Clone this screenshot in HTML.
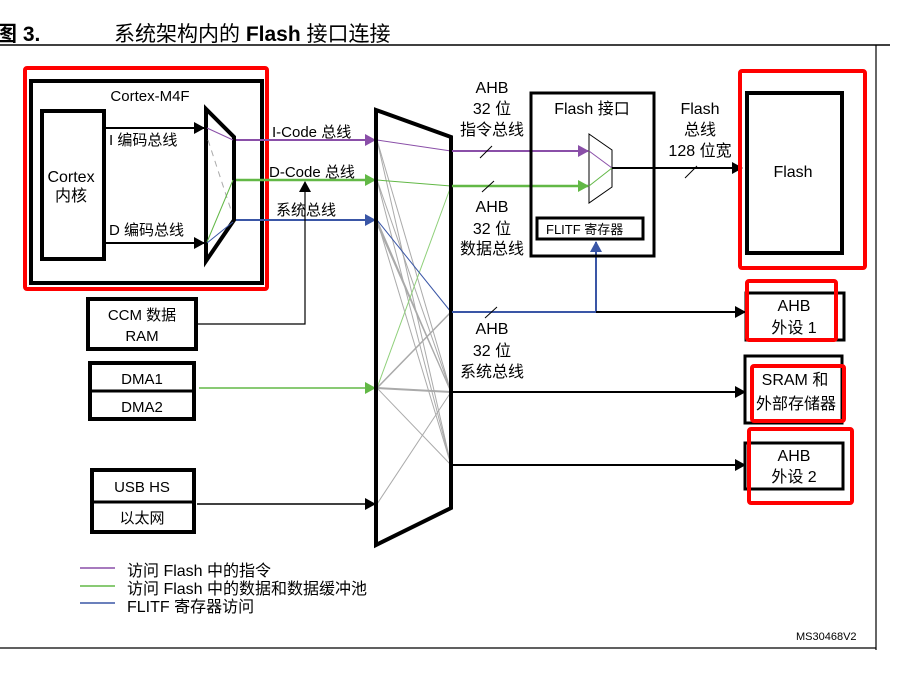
<!DOCTYPE html>
<html><head><meta charset="utf-8"><style>
body{margin:0;background:#fff;}
svg text{font-family:"Liberation Sans","Noto Sans CJK SC",sans-serif;fill:#000;}
</style></head><body>
<svg width="918" height="672" viewBox="0 0 918 672" xmlns="http://www.w3.org/2000/svg">
<defs>
<marker id="ak" markerWidth="11" markerHeight="12" refX="10" refY="6" orient="auto" markerUnits="userSpaceOnUse"><path d="M0,0 L11,6 L0,12z" fill="#000"/></marker>
<marker id="ap" markerWidth="11" markerHeight="12" refX="10" refY="6" orient="auto" markerUnits="userSpaceOnUse"><path d="M0,0 L11,6 L0,12z" fill="#8a4fa8"/></marker>
<marker id="ag" markerWidth="11" markerHeight="12" refX="10" refY="6" orient="auto" markerUnits="userSpaceOnUse"><path d="M0,0 L11,6 L0,12z" fill="#62b846"/></marker>
<marker id="ab" markerWidth="11" markerHeight="12" refX="10" refY="6" orient="auto" markerUnits="userSpaceOnUse"><path d="M0,0 L11,6 L0,12z" fill="#3a56a6"/></marker>
</defs>
<!-- title -->
<text x="-4" y="41" font-size="21" font-weight="bold">图 3.</text>
<text x="114" y="41" font-size="21">系统架构内的 <tspan font-weight="bold">Flash</tspan> 接口连接</text>
<line x1="0" y1="45" x2="890" y2="45" stroke="#000" stroke-width="1.5"/>
<line x1="876" y1="45" x2="876" y2="650" stroke="#000" stroke-width="1.2"/>
<line x1="0" y1="648" x2="876" y2="648" stroke="#000" stroke-width="1.2"/>

<!-- Cortex-M4F -->
<rect x="31" y="81" width="231" height="202" fill="none" stroke="#000" stroke-width="4"/>
<rect x="25" y="68" width="242" height="221" fill="none" stroke="#f00" stroke-width="4" rx="2"/>
<text x="150" y="101" font-size="15" text-anchor="middle">Cortex-M4F</text>
<rect x="42" y="111" width="62" height="148" fill="none" stroke="#000" stroke-width="4"/>
<text x="71" y="182" font-size="16" text-anchor="middle">Cortex</text>
<text x="71" y="201" font-size="16" text-anchor="middle">内核</text>
<line x1="106" y1="128" x2="204" y2="128" stroke="#000" stroke-width="2" marker-end="url(#ak)"/>
<line x1="106" y1="243" x2="204" y2="243" stroke="#000" stroke-width="2" marker-end="url(#ak)"/>
<text x="109" y="145" font-size="15">I 编码总线</text>
<text x="109" y="235" font-size="15">D 编码总线</text>
<polygon points="206,109 234,137 234,220 206,261" fill="none" stroke="#000" stroke-width="4"/>
<line x1="207" y1="128" x2="233" y2="140" stroke="#8a4fa8" stroke-width="1"/>
<line x1="208" y1="140" x2="231" y2="210" stroke="#aaa" stroke-width="1" stroke-dasharray="6,5"/>
<line x1="207" y1="242" x2="233" y2="180" stroke="#62b846" stroke-width="1"/>
<line x1="207" y1="243" x2="233" y2="222" stroke="#3a56a6" stroke-width="1"/>
<line x1="236" y1="140" x2="375" y2="140" stroke="#8a4fa8" stroke-width="2" marker-end="url(#ap)"/>
<line x1="236" y1="180" x2="375" y2="180" stroke="#62b846" stroke-width="2.5" marker-end="url(#ag)"/>
<line x1="236" y1="220" x2="375" y2="220" stroke="#3a56a6" stroke-width="2" marker-end="url(#ab)"/>
<text x="272" y="137" font-size="15">I-Code 总线</text>
<text x="269" y="177" font-size="15">D-Code 总线</text>
<text x="276" y="215" font-size="15">系统总线</text>

<!-- CCM -->
<rect x="88" y="299" width="108" height="50" fill="none" stroke="#000" stroke-width="4"/>
<text x="142" y="320" font-size="15" text-anchor="middle">CCM 数据</text>
<text x="142" y="341" font-size="15" text-anchor="middle">RAM</text>
<polyline points="198,324 305,324 305,182" fill="none" stroke="#000" stroke-width="1.2" marker-end="url(#ak)"/>
<!-- DMA -->
<rect x="90" y="363" width="104" height="56" fill="none" stroke="#000" stroke-width="4"/>
<line x1="90" y1="391" x2="194" y2="391" stroke="#000" stroke-width="3"/>
<text x="142" y="384" font-size="15" text-anchor="middle">DMA1</text>
<text x="142" y="412" font-size="15" text-anchor="middle">DMA2</text>
<line x1="199" y1="388" x2="375" y2="388" stroke="#62b846" stroke-width="1.5" marker-end="url(#ag)"/>
<!-- USB -->
<rect x="92" y="470" width="102" height="62" fill="none" stroke="#000" stroke-width="4"/>
<line x1="92" y1="502" x2="194" y2="502" stroke="#000" stroke-width="3"/>
<text x="142" y="492" font-size="15" text-anchor="middle">USB HS</text>
<text x="142" y="523" font-size="15" text-anchor="middle">以太网</text>
<line x1="197" y1="504" x2="375" y2="504" stroke="#000" stroke-width="1.5" marker-end="url(#ak)"/>

<!-- matrix internals -->
<g stroke="#aaa" stroke-width="1" fill="none">
<line x1="377" y1="140" x2="451" y2="392"/>
<line x1="377" y1="140" x2="451" y2="465"/>
<line x1="377" y1="180" x2="451" y2="392"/>
<line x1="377" y1="180" x2="451" y2="465"/>
<line x1="377" y1="220" x2="451" y2="392"/>
<line x1="377" y1="222" x2="451" y2="392"/>
<line x1="377" y1="224" x2="451" y2="392"/>
<line x1="377" y1="220" x2="451" y2="465"/>
<line x1="377" y1="388" x2="451" y2="312" stroke-width="1.5"/>
<line x1="377" y1="388" x2="451" y2="392" stroke-width="2"/>
<line x1="377" y1="388" x2="451" y2="465"/>
<line x1="377" y1="504" x2="451" y2="392"/>
</g>
<line x1="377" y1="140" x2="451" y2="151" stroke="#8a4fa8" stroke-width="1"/>
<line x1="377" y1="180" x2="451" y2="186" stroke="#62b846" stroke-width="1"/>
<line x1="377" y1="388" x2="451" y2="186" stroke="#8fd07a" stroke-width="1"/>
<line x1="377" y1="220" x2="451" y2="312" stroke="#3a56a6" stroke-width="1"/>
<polygon points="376,110 451,137 451,508 376,545" fill="none" stroke="#000" stroke-width="4"/>

<!-- matrix outputs -->
<line x1="452" y1="151" x2="588" y2="151" stroke="#8a4fa8" stroke-width="2" marker-end="url(#ap)"/>
<line x1="452" y1="186" x2="588" y2="186" stroke="#62b846" stroke-width="2.5" marker-end="url(#ag)"/>
<line x1="480" y1="158" x2="492" y2="146" stroke="#000" stroke-width="1"/>
<line x1="482" y1="192" x2="494" y2="181" stroke="#000" stroke-width="1"/>
<line x1="452" y1="312" x2="596" y2="312" stroke="#3a56a6" stroke-width="2"/>
<line x1="596" y1="312" x2="596" y2="242" stroke="#3a56a6" stroke-width="2" marker-end="url(#ab)"/>
<line x1="596" y1="312" x2="745" y2="312" stroke="#000" stroke-width="2" marker-end="url(#ak)"/>
<line x1="485" y1="318" x2="497" y2="307" stroke="#000" stroke-width="1"/>
<line x1="452" y1="392" x2="745" y2="392" stroke="#000" stroke-width="2" marker-end="url(#ak)"/>
<line x1="452" y1="465" x2="745" y2="465" stroke="#000" stroke-width="2" marker-end="url(#ak)"/>
<g font-size="16" text-anchor="middle">
<text x="492" y="93">AHB</text><text x="492" y="114">32 位</text><text x="492" y="135">指令总线</text>
<text x="492" y="212">AHB</text><text x="492" y="234">32 位</text><text x="492" y="254">数据总线</text>
<text x="492" y="334">AHB</text><text x="492" y="356">32 位</text><text x="492" y="377">系统总线</text>
<text x="700" y="114">Flash</text><text x="700" y="135">总线</text><text x="700" y="156">128 位宽</text>
</g>

<!-- Flash interface -->
<rect x="531" y="93" width="123" height="163" fill="none" stroke="#000" stroke-width="3"/>
<text x="592" y="114" font-size="16" text-anchor="middle">Flash 接口</text>
<polygon points="589,134 612,150 612,187 589,203" fill="none" stroke="#000" stroke-width="1"/>
<line x1="589" y1="151" x2="612" y2="168" stroke="#8a4fa8" stroke-width="1"/>
<line x1="589" y1="186" x2="612" y2="168" stroke="#62b846" stroke-width="1"/>
<rect x="537" y="218" width="106" height="21" fill="none" stroke="#000" stroke-width="3"/>
<text x="546" y="234" font-size="13">FLITF 寄存器</text>
<line x1="612" y1="168" x2="742" y2="168" stroke="#000" stroke-width="2" marker-end="url(#ak)"/>
<line x1="685" y1="178" x2="697" y2="166" stroke="#000" stroke-width="1"/>

<!-- targets -->
<rect x="747" y="93" width="95" height="160" fill="none" stroke="#000" stroke-width="4"/>
<rect x="740" y="71" width="125" height="197" fill="none" stroke="#f00" stroke-width="4" rx="2"/>
<text x="793" y="177" font-size="16" text-anchor="middle">Flash</text>
<rect x="746" y="293" width="98" height="47" fill="none" stroke="#000" stroke-width="3"/>
<rect x="747" y="281" width="89" height="59" fill="none" stroke="#f00" stroke-width="4" rx="2"/>
<text x="794" y="311" font-size="16" text-anchor="middle">AHB</text>
<text x="794" y="333" font-size="16" text-anchor="middle">外设 1</text>
<rect x="745" y="356" width="97" height="67" fill="none" stroke="#000" stroke-width="3"/>
<rect x="752" y="366" width="92" height="55" fill="none" stroke="#f00" stroke-width="4" rx="2"/>
<text x="795" y="385" font-size="16" text-anchor="middle">SRAM 和</text>
<text x="796" y="409" font-size="16" text-anchor="middle">外部存储器</text>
<rect x="745" y="443" width="98" height="46" fill="none" stroke="#000" stroke-width="3"/>
<rect x="749" y="429" width="103" height="74" fill="none" stroke="#f00" stroke-width="4" rx="2"/>
<text x="794" y="461" font-size="16" text-anchor="middle">AHB</text>
<text x="794" y="482" font-size="16" text-anchor="middle">外设 2</text>

<!-- legend -->
<line x1="80" y1="568" x2="115" y2="568" stroke="#8a4fa8" stroke-width="1.5"/>
<line x1="80" y1="586" x2="115" y2="586" stroke="#62b846" stroke-width="1.5"/>
<line x1="80" y1="603" x2="115" y2="603" stroke="#3a56a6" stroke-width="1.5"/>
<g font-size="16"><text x="127" y="576">访问 Flash 中的指令</text>
<text x="127" y="594">访问 Flash 中的数据和数据缓冲池</text>
<text x="127" y="612">FLITF 寄存器访问</text></g>
<text x="796" y="640" font-size="11">MS30468V2</text>
</svg>
</body></html>
